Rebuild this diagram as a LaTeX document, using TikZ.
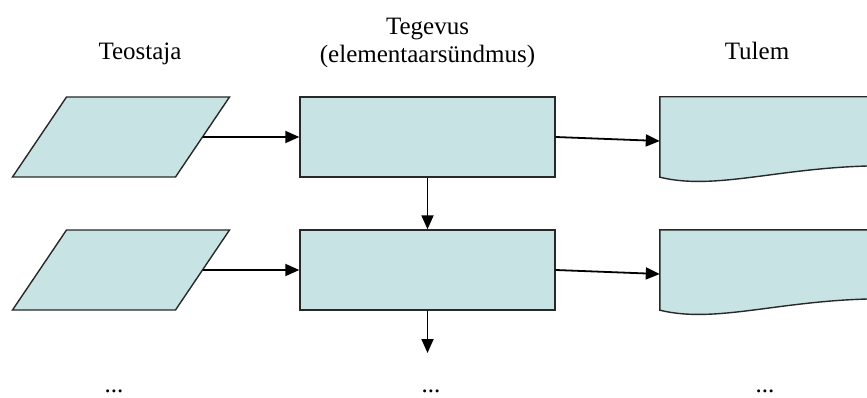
\documentclass[tikz,border=0pt]{standalone}
\usepackage{fontspec}
\setmainfont{Liberation Serif}
\usetikzlibrary{arrows.meta}
\definecolor{boxfill}{RGB}{200,227,227}
\definecolor{boxline}{RGB}{40,40,40}

\begin{document}
\begin{tikzpicture}[x=1pt,y=-1pt,
        font=\fontsize{25}{28}\selectfont,
        shapebox/.style={draw=boxline,fill=boxfill,line width=1.4pt},
        actorbox/.style={shapebox,rectangle,xslant=0.675,transform shape,
            minimum width=163,minimum height=80},
        actbox/.style={shapebox,rectangle,minimum width=255,minimum height=80},
        docbox/.style={rectangle,minimum width=240,minimum height=80},
        flow/.style={line width=1.8pt,-{Triangle[length=14pt,width=12pt]}},
        label/.style={anchor=base}]
    \clip (0,0) rectangle (867,398);

    % column titles
    \node[label] (teostaja) at (140,60) {Teostaja};
    \node[label,align=center] (tegevus) at (427.5,63) {Tegevus\\(elementaarsündmus)};
    \node[label] (tulem) at (757,60) {Tulem};

    % first row
    \node[actorbox] (actor1) at (121,137) {};
    \node[actbox] (act1) at (427.5,137) {};
    \node[docbox] (doc1) at (780,137) {};
    \draw[shapebox] (doc1.south west) -- (doc1.north west) -- (doc1.north east)
        -- (900,166) .. controls (790,163) and (720,192) .. (doc1.south west) -- cycle;

    % second row
    \node[actorbox] (actor2) at (121,270) {};
    \node[actbox] (act2) at (427.5,270) {};
    \node[docbox] (doc2) at (780,270) {};
    \draw[shapebox] (doc2.south west) -- (doc2.north west) -- (doc2.north east)
        -- (900,299) .. controls (790,296) and (720,325) .. (doc2.south west) -- cycle;

    \coordinate (next) at (427.5,353);

    % connectors
    \draw[flow] (actor1.east) -- (act1.west);
    \draw[flow] (act1.east) -- ([yshift=-4pt]doc1.west);
    \draw[flow] (act1.south) -- (act2.north);
    \draw[flow] (actor2.east) -- (act2.west);
    \draw[flow] (act2.east) -- ([yshift=-4pt]doc2.west);
    \draw[flow] (act2.south) -- (next);

    % continuation marks
    \node[label] (more1) at (114,392) {...};
    \node[label] (more2) at (431,392) {...};
    \node[label] (more3) at (765,392) {...};
\end{tikzpicture}
\end{document}
